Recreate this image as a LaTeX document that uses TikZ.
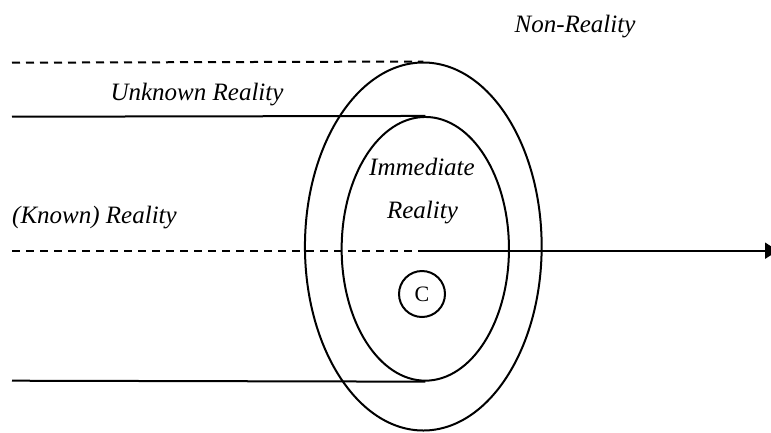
\documentclass[tikz,border=0pt]{standalone}
\usepackage{fontspec}
\setmainfont{Liberation Serif}
\usetikzlibrary{shapes.geometric,arrows.meta}
\begin{document}
\begin{tikzpicture}[x=1pt,y=-1pt,
  ring/.style={draw,ellipse,line width=2pt,inner sep=0pt},
  solidline/.style={line width=2pt},
  dashline/.style={line width=2pt,dash pattern=on 8pt off 6pt},
  lbl/.style={font=\fontsize{25}{30}\selectfont\itshape,anchor=base,inner sep=0pt}]
\useasboundingbox (0,0) rectangle (771,432);
% ellipses
\node[ring,minimum width=236.7pt,minimum height=368pt] (outer) at (423.3,246.5) {};
\node[ring,minimum width=167.3pt,minimum height=263.7pt] (inner) at (425.3,248.8) {};
\node[draw,circle,line width=2pt,minimum size=46pt,inner sep=0pt,font=\fontsize{22}{26}\selectfont] (c) at (422,294) {C};
% coordinates
\coordinate (d1) at (12,62.7);
\coordinate (s1) at (12,116.7);
\coordinate (d2) at (12,250.7);
\coordinate (mid) at (419,250.7);
\coordinate (tip) at (778,250.7);
\coordinate (s2) at (12,380.7);
% lines
\draw[dashline] (d1) -- (outer.north);
\draw[solidline] (s1) -- (inner.north);
\draw[dashline] (d2) -- (mid);
\draw[solidline,-{Triangle[length=13pt,width=16pt]}] (mid) -- (tip);
\draw[solidline] (s2) -- (inner.south);
% labels
\node[lbl] (nonreal) at (575,32) {Non-Reality};
\node[lbl] (unknown) at (197,100) {Unknown Reality};
\node[lbl] (known) at (94.5,223) {(Known) Reality};
\node[lbl] (imm1) at (422,175) {Immediate};
\node[lbl] (imm2) at (422.5,218) {Reality};
\end{tikzpicture}
\end{document}
